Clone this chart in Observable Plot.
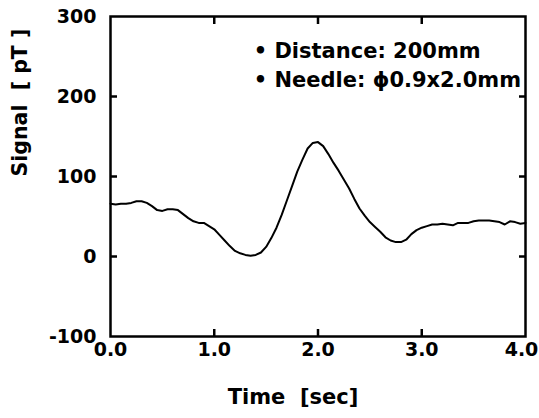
<!DOCTYPE html>
<html>
<head>
<meta charset="utf-8">
<script src="https://cdn.jsdelivr.net/npm/d3@7"></script>
<script src="https://cdn.jsdelivr.net/npm/@observablehq/plot@0.6"></script>
<style>
  html, body { margin: 0; padding: 0; background: #fff; }
  svg { display: block; }
</style>
</head>
<body>
<div id="chart"></div>
<script>
const times = [0.00,0.05,0.10,0.15,0.20,0.25,0.30,0.35,0.40,0.45,0.50,0.55,0.60,0.65,0.70,0.75,0.80,0.85,0.90,0.95,
  1.00,1.05,1.10,1.15,1.20,1.25,1.30,1.35,1.40,1.45,1.50,1.55,1.60,1.65,1.70,1.75,1.80,1.85,1.90,1.95,
  2.00,2.05,2.10,2.15,2.20,2.25,2.30,2.35,2.40,2.45,2.50,2.55,2.60,2.65,2.70,2.75,2.80,2.85,2.90,2.95,
  3.00,3.05,3.10,3.15,3.20,3.25,3.30,3.35,3.40,3.45,3.50,3.55,3.60,3.65,3.70,3.75,3.80,3.85,3.90,3.95,4.00];
const signal = [66,65,66,66,67,69,69,67,63,58,57,59,59,58,53,48,44,42,42,38,
  34,27,20,13,7,4,2,1,2,5,12,23,36,52,70,88,106,121,135,142,
  143,138,128,117,107,96,85,72,60,51,43,37,31,24,20,18,18,21,28,33,
  36,38,40,40,41,40,39,42,42,42,44,45,45,45,44,43,40,44,43,41,42];

const xTicksMain = [0, 1, 2, 3];
const xTicksLast = [4];
const yTicks = [-100, 0, 100, 200, 300];
const xInnerTicks = [1, 2, 3];
const yInnerTicks = [0, 100, 200];

const noteLabels = ["\u2022 Distance: 200mm", "\u2022 Needle: \u03D50.9x2.0mm"];
const noteT = [1.38, 1.38];
const noteV = [257, 220];

const xTitle = "Time\u00a0\u00a0[sec]";
const yTitle = "Signal\u00a0\u00a0[\u00a0pT\u00a0]";

const data = times.map((t, i) => ({t, v: signal[i]}));
const notes = noteLabels.map((label, i) => ({label, t: noteT[i], v: noteV[i]}));

const blank = () => "";
const fmtX = d => d.toFixed(1);

const chart = Plot.plot({
  width: 539,
  height: 418,
  marginLeft: 110,
  marginRight: 14,
  marginTop: 16,
  marginBottom: 82,
  x: {domain: [0, 4], label: null},
  y: {domain: [-100, 300], label: null},
  style: {fontFamily: "'DejaVu Sans', sans-serif", fontWeight: "bold", color: "black", background: "white"},
  marks: [
    Plot.axisX(xTicksMain, {anchor: "bottom", tickSize: 0, tickPadding: 6, fontSize: 19, tickFormat: fmtX, label: null}),
    Plot.axisX(xTicksLast, {anchor: "bottom", tickSize: 0, tickPadding: 6, fontSize: 19, dx: -4, tickFormat: fmtX, label: null}),
    Plot.axisY(yTicks, {anchor: "left", tickSize: 0, tickPadding: 14, fontSize: 19, tickFormat: d => String(d), label: null}),
    Plot.axisX(xInnerTicks, {anchor: "bottom", tickSize: 7, dy: -7, strokeWidth: 2.5, tickFormat: blank, label: null}),
    Plot.axisX(xInnerTicks, {anchor: "top", tickSize: 7, dy: 7, strokeWidth: 2.5, tickFormat: blank, label: null}),
    Plot.axisY(yInnerTicks, {anchor: "left", tickSize: 7, dx: 7, strokeWidth: 2.5, tickFormat: blank, label: null}),
    Plot.axisY(yInnerTicks, {anchor: "right", tickSize: 7, dx: -7, strokeWidth: 2.5, tickFormat: blank, label: null}),
    Plot.frame({stroke: "black", strokeWidth: 2.5}),
    Plot.line(data, {x: "t", y: "v", stroke: "black", strokeWidth: 2}),
    Plot.text(notes, {x: "t", y: "v", text: "label", textAnchor: "start", fontSize: 21, fontWeight: "bold", fill: "black"}),
    Plot.text([xTitle], {frameAnchor: "bottom", text: d => d, dx: -25, dy: 67, fontSize: 21, fontWeight: "bold", fill: "black"}),
    Plot.text([yTitle], {frameAnchor: "left", text: d => d, rotate: -90, dx: -90, dy: 0, fontSize: 20.5, fontWeight: "bold", fill: "black"})
  ]
});
document.getElementById("chart").appendChild(chart);
</script>
</body>
</html>
